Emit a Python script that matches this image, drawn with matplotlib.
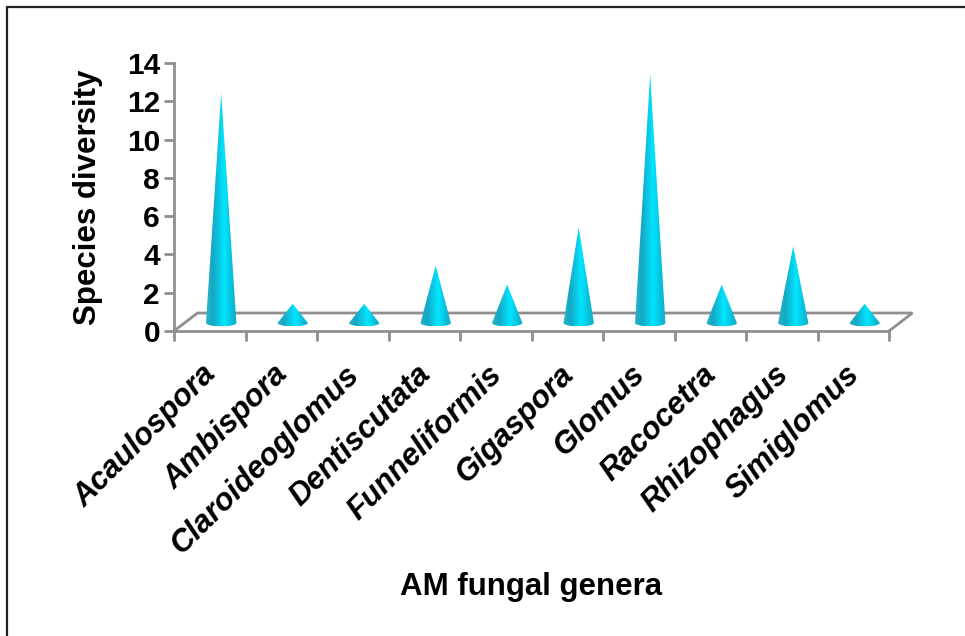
import numpy as np
import matplotlib
matplotlib.use("Agg")
import matplotlib.pyplot as plt
from matplotlib.colors import LinearSegmentedColormap
from matplotlib.lines import Line2D
from matplotlib.patches import Polygon

genera = ["Acaulospora", "Ambispora", "Claroideoglomus", "Dentiscutata", "Funneliformis",
          "Gigaspora", "Glomus", "Racocetra", "Rhizophagus", "Simiglomus"]
diversity = [12, 1, 1, 3, 2, 5, 13, 2, 4, 1]
y_ticks = [0, 2, 4, 6, 8, 10, 12, 14]

W, H = 965, 636
plt.rcParams['font.family'] = ['Liberation Sans', 'DejaVu Sans']
fig = plt.figure(figsize=(W/100, H/100), dpi=100)

# frame: only the top and left edges show
fig.add_artist(Line2D([7/W, 7/W, 1], [0, 1-6.5/H, 1-6.5/H], transform=fig.transFigure,
                      color='#222222', lw=1.6, solid_joinstyle='miter'))

x0, x1, y0, y1 = 174, 889, 331, 63
ax = fig.add_axes([x0/W, 1-y0/H, (x1-x0)/W, (y0-y1)/H])
ax.set_xlim(0, 10)
ax.set_ylim(0, 14)
ax.patch.set_visible(False)
for s in ['top', 'right']:
    ax.spines[s].set_visible(False)
for s in ['left', 'bottom']:
    ax.spines[s].set_color('#8f8f8f')
    ax.spines[s].set_linewidth(2.0)

ax.set_yticks(y_ticks)
ax.set_yticklabels([str(v) for v in y_ticks], fontsize=21.5, fontweight='bold')
ax.set_xticks(np.arange(0, 11))
ax.set_xticklabels([])
ax.tick_params(axis='both', color='#8f8f8f', width=2.0, length=7)
ax.tick_params(axis='y', pad=3)

# floor (depth offset in data units)
depth_x = 23.5/71.5
depth_y = 18/19.14
ax.plot([0, depth_x, 10+depth_x, 10], [0, depth_y, depth_y, 0], color='#8f8f8f', lw=2.0,
        clip_on=False, zorder=1, solid_joinstyle='miter')

# cones
cmap = LinearSegmentedColormap.from_list('cone', [
    (0.0, '#2fb3ca'), (0.22, '#14a8c4'), (0.42, '#0cc8e4'), (0.58, '#00e6ff'),
    (0.8, '#08c4e0'), (1.0, '#12a8c2')])
grad = np.linspace(0, 1, 256)[None, :]
cone_dx, cone_dy = 0.16, 0.42
half_w, half_h = 15.2/71.5, 3.4/19.14
for i, v in enumerate(diversity):
    cx = i + 0.5 + cone_dx
    base = cone_dy
    top = base + v
    im = ax.imshow(grad, cmap=cmap, aspect='auto', zorder=3, interpolation='bilinear',
                   extent=[cx-half_w, cx+half_w, base-half_h, top])
    t = np.linspace(np.pi, 2*np.pi, 30)
    verts = [(cx, top)] + [(cx+half_w*np.cos(a), base+half_h*np.sin(a)) for a in t] + [(cx, top)]
    im.set_clip_path(Polygon(verts, closed=True, transform=ax.transData))
ax.set_xlim(0, 10)
ax.set_ylim(0, 14)

# rotated category labels
for i, name in enumerate(genera):
    ax.annotate(name, xy=(i+0.5, 0), xycoords=('data', 'axes fraction'),
                xytext=(2, -39), textcoords='offset pixels', rotation=45, rotation_mode='anchor',
                ha='right', va='center', fontsize=22.3, fontweight='bold', fontstyle='italic')

fig.text(531/W, 1-587/H, "AM fungal genera", ha='center', va='center', fontsize=22.5, fontweight='bold')
fig.text(88/W, 1-197/H, "Species diversity", ha='center', va='center', rotation=90,
         fontsize=22.5, fontweight='bold')

fig.savefig('out.png', dpi=100)
